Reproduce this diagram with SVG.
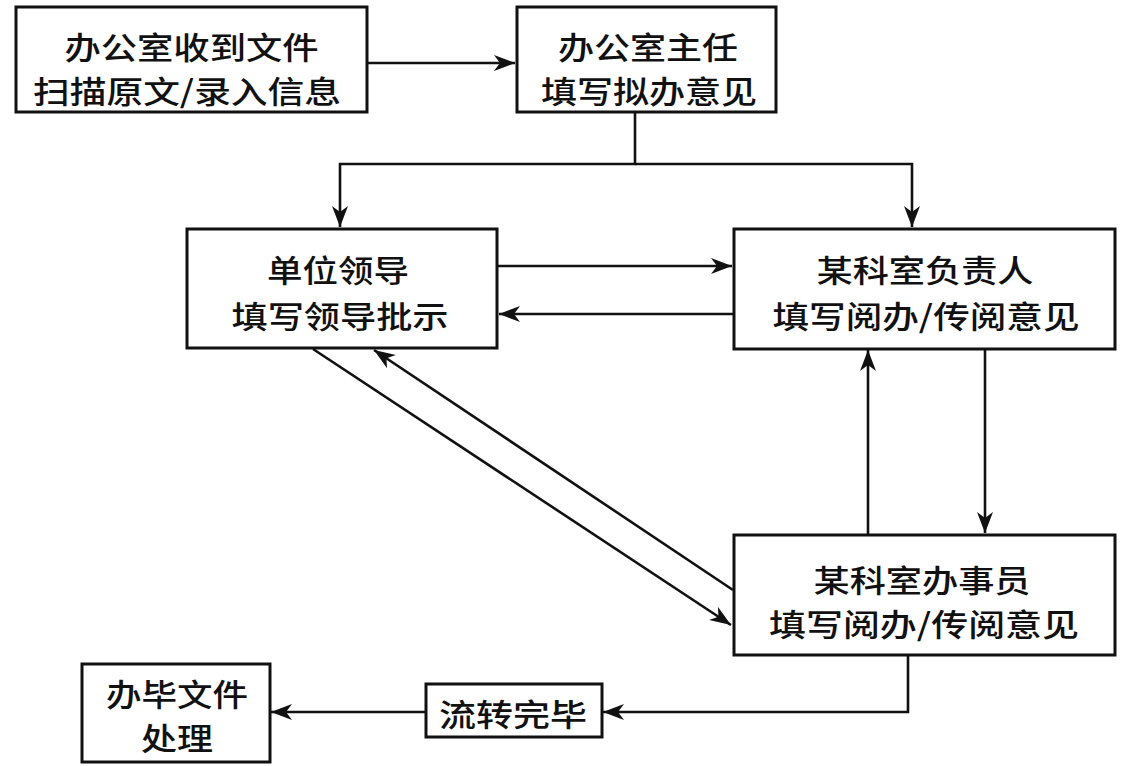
<svg xmlns="http://www.w3.org/2000/svg" width="1124" height="766" viewBox="0 0 1124 766">
<style>
.box{fill:#fff;stroke:#111;stroke-width:3}
.t{font-family:"Noto Sans CJK SC","Noto Sans",sans-serif;font-size:31px;font-weight:500;fill:#111;text-anchor:middle;dominant-baseline:central}
.c{fill:none;stroke:#111;stroke-width:2.6}
</style>
<defs>
<marker id="ah" markerUnits="userSpaceOnUse" markerWidth="22" markerHeight="18" viewBox="0 0 22 18" refX="21" refY="9" orient="auto">
<path d="M0,1 L21,9 L0,17 L6,9 z" fill="#111"/>
</marker>
</defs>
<rect width="1124" height="766" fill="#fff"/>
<g id="connectors">
<path class="c" d="M367,63 H515" marker-end="url(#ah)"/>
<path class="c" d="M635,112 V164 H340 V227" marker-end="url(#ah)"/>
<path class="c" d="M635,164 H912 V227" marker-end="url(#ah)"/>
<path class="c" d="M497,266 H732" marker-end="url(#ah)"/>
<path class="c" d="M734,314 H499" marker-end="url(#ah)"/>
<path class="c" d="M313,349 L731,625" marker-end="url(#ah)"/>
<path class="c" d="M733,590 L374,350" marker-end="url(#ah)"/>
<path class="c" d="M868,534 V350" marker-end="url(#ah)"/>
<path class="c" d="M985,348 V533" marker-end="url(#ah)"/>
<path class="c" d="M908,655 V712 H603" marker-end="url(#ah)"/>
<path class="c" d="M426,712 H271" marker-end="url(#ah)"/>
</g>
<g id="n1">
<rect class="box" x="16" y="7" width="351" height="105"/>
<text class="t" x="191.5" y="45" textLength="254" lengthAdjust="spacingAndGlyphs">办公室收到文件</text>
<text class="t" x="187" y="89" textLength="308" lengthAdjust="spacingAndGlyphs">扫描原文/录入信息</text>
</g>
<g id="n2">
<rect class="box" x="517" y="7" width="259" height="105"/>
<text class="t" x="648" y="45" textLength="180" lengthAdjust="spacingAndGlyphs">办公室主任</text>
<text class="t" x="649" y="89" textLength="216" lengthAdjust="spacingAndGlyphs">填写拟办意见</text>
</g>
<g id="n3">
<rect class="box" x="187" y="229" width="310" height="119"/>
<text class="t" x="338" y="268" textLength="142" lengthAdjust="spacingAndGlyphs">单位领导</text>
<text class="t" x="340" y="314" textLength="217" lengthAdjust="spacingAndGlyphs">填写领导批示</text>
</g>
<g id="n4">
<rect class="box" x="734" y="229" width="381" height="120"/>
<text class="t" x="925" y="268" textLength="217" lengthAdjust="spacingAndGlyphs">某科室负责人</text>
<text class="t" x="926" y="314" textLength="307" lengthAdjust="spacingAndGlyphs">填写阅办/传阅意见</text>
</g>
<g id="n5">
<rect class="box" x="734" y="535" width="381" height="120"/>
<text class="t" x="922" y="578" textLength="217" lengthAdjust="spacingAndGlyphs">某科室办事员</text>
<text class="t" x="924" y="622" textLength="310" lengthAdjust="spacingAndGlyphs">填写阅办/传阅意见</text>
</g>
<g id="n6">
<rect class="box" x="426" y="684" width="176" height="53"/>
<text class="t" x="513" y="712" textLength="148" lengthAdjust="spacingAndGlyphs">流转完毕</text>
</g>
<g id="n7">
<rect class="box" x="82" y="664" width="188" height="98"/>
<text class="t" x="177" y="692" textLength="142" lengthAdjust="spacingAndGlyphs">办毕文件</text>
<text class="t" x="177" y="736" textLength="72" lengthAdjust="spacingAndGlyphs">处理</text>
</g>
</svg>
